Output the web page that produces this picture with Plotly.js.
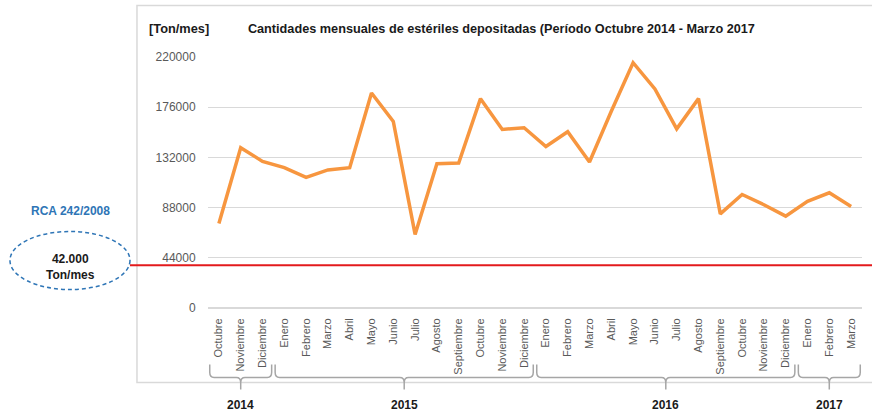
<!DOCTYPE html>
<html>
<head>
<meta charset="utf-8">
<script src="https://cdn.plot.ly/plotly-3.0.1.min.js"></script>
<style>html,body{margin:0;padding:0;background:#fff;}#chart{width:872px;height:414px;}</style>
</head>
<body>
<div id="chart"></div>
<script>
// ---- Data ----
const months = ['Octubre','Noviembre','Diciembre',
  'Enero','Febrero','Marzo','Abril','Mayo','Junio','Julio','Agosto','Septiembre','Octubre','Noviembre','Diciembre',
  'Enero','Febrero','Marzo','Abril','Mayo','Junio','Julio','Agosto','Septiembre','Octubre','Noviembre','Diciembre',
  'Enero','Febrero','Marzo'];
const years = ['2014','2015','2016','2017'];
const yearCounts = [3, 12, 12, 3];
const tonnes = [74000, 140500, 128500,
  123000, 114500, 121000, 123000, 188500, 163500, 64500, 126500, 127000, 183500, 156500, 158000,
  141500, 154500, 128000, 172500, 215000, 192000, 157000, 183500, 82500, 99500, 90500, 80500,
  93500, 101000, 89000];
const yTicks = [0, 44000, 88000, 132000, 176000, 220000];
const limitText = '42.000<br>Ton/mes';
const limitLabel = 'RCA 242/2008';
const limitLineLevel = 37500; // level at which the reference line is drawn in the source picture
const titleText = 'Cantidades mensuales de estériles depositadas (Período Octubre 2014 - Marzo 2017';
const unitText = '[Ton/mes]';

// ---- Build ----
const idx = months.map((_, i) => i);
const FONT = 'Liberation Sans, Arial, sans-serif';
const gray = '#595959';
const braceColor = '#a6a6a6';

const yTop = -0.225, yBot = -0.277, yTick = -0.325;
const yStep = (yBot - yTop);

const shapes = [];
const annotations = [];

shapes.push({type:'rect', xref:'paper', yref:'paper', x0:-0.1086, x1:1.03, y0:-0.297, y1:1.205,
  line:{color:'#d9d9d9', width:1.5}, fillcolor:'rgba(0,0,0,0)', layer:'below'});

let start = 0;
years.forEach((yr, k) => {
  const end = start + yearCounts[k] - 1;
  const x0 = start - 0.42, x1 = end + 0.42, xc = (start + end) / 2;
  const d = 0.2;
  const yb2 = yBot + yStep*0.4;
  const path = `M ${x0},${yTop} L ${x0},${yBot - yStep*0.4} Q ${x0},${yBot} ${x0+d},${yBot} ` +
    `L ${xc-d},${yBot} Q ${xc},${yBot} ${xc},${yb2} L ${xc},${yTick} ` +
    `M ${xc},${yb2} Q ${xc},${yBot} ${xc+d},${yBot} L ${x1-d},${yBot} Q ${x1},${yBot} ${x1},${yBot - yStep*0.4} L ${x1},${yTop}`;
  shapes.push({type:'path', xref:'x', yref:'paper', path:path, line:{color:braceColor, width:1.5}});
  annotations.push({xref:'x', yref:'paper', x:xc, y:-0.388, text:'<b>'+yr+'</b>', showarrow:false,
    xanchor:'center', yanchor:'middle', font:{family:FONT, size:12, color:'#1a1a1a'}});
  start = end + 1;
});

shapes.push({type:'line', xref:'paper', yref:'y', x0:-0.1193, x1:1.03, y0:limitLineLevel, y1:limitLineLevel,
  line:{color:'#e31a1c', width:2}});
shapes.push({type:'circle', xref:'paper', yref:'paper', x0:-0.3028, x1:-0.1193, y0:0.0737, y1:0.3048,
  line:{color:'#2e75b6', width:1.5, dash:'4px,3px'}, fillcolor:'rgba(0,0,0,0)'});

annotations.push({xref:'paper', yref:'paper', x:-0.211, y:0.1614, text:'<b>'+limitText+'</b>', showarrow:false,
  xanchor:'center', yanchor:'middle', font:{family:FONT, size:12, color:'#1a1a1a'}});
annotations.push({xref:'paper', yref:'paper', x:-0.211, y:0.388, text:'<b>'+limitLabel+'</b>', showarrow:false,
  xanchor:'center', yanchor:'middle', font:{family:FONT, size:12, color:'#2e75b6'}});
annotations.push({xref:'paper', yref:'paper', x:-0.094, y:1.1135, text:'<b>'+unitText+'</b>', showarrow:false,
  xanchor:'left', yanchor:'middle', font:{family:FONT, size:12.8, color:'#1a1a1a'}});

const trace = {
  type:'scatter', mode:'lines', x: idx, y: tonnes,
  line:{color:'#f7963f', width:3.5}, hoverinfo:'y'
};

const layout = {
  width:872, height:414, autosize:false,
  margin:{l:208, r:10, t:57, b:106, pad:0},
  paper_bgcolor:'#fff', plot_bgcolor:'#fff',
  showlegend:false,
  title:{text:'<b>'+titleText+'</b>', xref:'paper', x:0.061, xanchor:'left', yref:'container', y:0.93, yanchor:'middle',
    font:{family:FONT, size:12.7, color:'#1a1a1a'}},
  xaxis:{type:'linear', range:[-0.5, 29.5], tickvals: idx, ticktext: months, tickangle:-90,
    showgrid:false, zeroline:false, showline:false, ticks:'outside', ticklen:5, tickcolor:'rgba(0,0,0,0)',
    tickfont:{family:FONT, size:11, color:gray}, fixedrange:true},
  yaxis:{range:[0, 220000], tickvals: yTicks, ticktext: yTicks.map(String), showgrid:true, gridcolor:'#d9d9d9', gridwidth:1,
    zeroline:true, zerolinecolor:'#d9d9d9', zerolinewidth:2, showline:false, ticks:'outside', ticklen:9,
    tickcolor:'rgba(0,0,0,0)', tickfont:{family:FONT, size:12, color:gray}, fixedrange:true},
  shapes: shapes,
  annotations: annotations
};

Plotly.newPlot('chart', [trace], layout, {staticPlot:true, displayModeBar:false});
</script>
</body>
</html>
